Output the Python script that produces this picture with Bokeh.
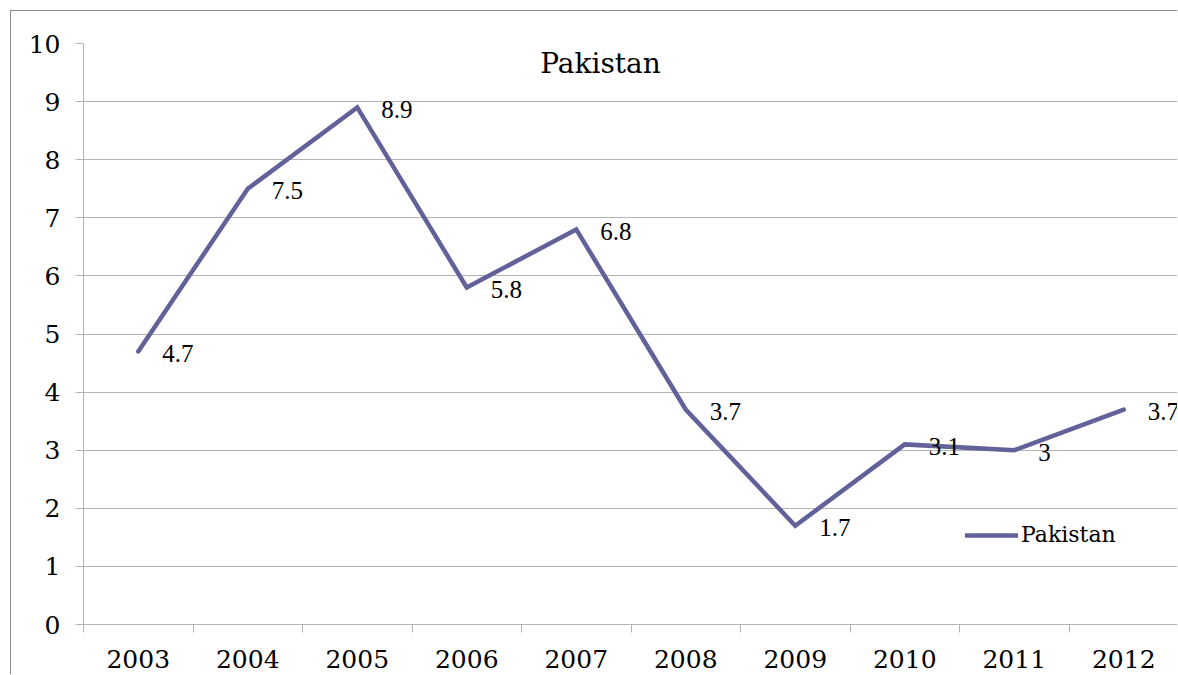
from bokeh.plotting import figure
from bokeh.models import Range1d, FixedTicker, Label, Legend, LegendItem, ColumnDataSource, LabelSet
from bokeh.embed import file_html
from bokeh.resources import INLINE

years = [2003, 2004, 2005, 2006, 2007, 2008, 2009, 2010, 2011, 2012]
values = [4.7, 7.5, 8.9, 5.8, 6.8, 3.7, 1.7, 3.1, 3.0, 3.7]
value_labels = ["4.7", "7.5", "8.9", "5.8", "6.8", "3.7", "1.7", "3.1", "3", "3.7"]
y_ticks = [0, 1, 2, 3, 4, 5, 6, 7, 8, 9, 10]
series_name = "Pakistan"
title_text = "Pakistan"

FONT = "DejaVu Serif"
LINE_COLOR = "#62619a"
GRID = "#b3b3b3"

p = figure(width=1167, height=664, output_backend="svg", toolbar_location=None,
           x_range=Range1d(years[0] - 0.5, years[-1] + 0.5), y_range=Range1d(0, 10),
           min_border_left=72, min_border_right=0, min_border_top=32, min_border_bottom=51)
p.margin = (10, 0, 0, 10)
p.styles = {"border-left": "1px solid #8a8a8a", "border-top": "1px solid #8a8a8a"}
p.outline_line_color = None
p.background_fill_color = "white"
p.border_fill_color = "white"

# y axis
p.yaxis.ticker = FixedTicker(ticks=y_ticks)
p.yaxis.axis_line_color = GRID
p.yaxis.major_tick_line_color = GRID
p.yaxis.major_tick_out = 8
p.yaxis.major_tick_in = 0
p.yaxis.minor_tick_line_color = None
p.yaxis.major_label_standoff = 15
p.yaxis.major_label_text_font = FONT
p.yaxis.major_label_text_font_size = "25px"
p.yaxis.major_label_text_color = "black"

# x axis: labels at year centers, ticks at boundaries
bounds = [y - 0.5 for y in years] + [years[-1] + 0.5]
p.xaxis.ticker = FixedTicker(ticks=years, minor_ticks=bounds)
p.xaxis.axis_line_color = GRID
p.xaxis.major_tick_line_color = None
p.xaxis.major_tick_out = 0
p.xaxis.major_tick_in = 0
p.xaxis.minor_tick_line_color = GRID
p.xaxis.minor_tick_out = 8
p.xaxis.minor_tick_in = 0
p.xaxis.major_label_standoff = 17
p.xaxis.major_label_text_font = FONT
p.xaxis.major_label_text_font_size = "25px"
p.xaxis.major_label_text_color = "black"

p.xgrid.grid_line_color = None
p.ygrid.ticker = FixedTicker(ticks=y_ticks)
p.ygrid.grid_line_color = GRID
p.ygrid.grid_line_width = 1

src = ColumnDataSource(dict(x=years, y=values, lab=value_labels))
r = p.line("x", "y", source=src, line_color=LINE_COLOR, line_width=4.5, line_join="miter", line_cap="round")

labels = LabelSet(x="x", y="y", text="lab", source=src, x_offset=24, y_offset=-2,
                  text_font=FONT, text_font_size="25px", text_color="black",
                  text_align="left", text_baseline="middle")
p.add_layout(labels)

title = Label(x=517, y=561, x_units="screen", y_units="screen", text=title_text,
              text_font=FONT, text_font_size="28px", text_color="black",
              text_align="center", text_baseline="middle")
p.add_layout(title)

legend = Legend(items=[LegendItem(label=series_name, renderers=[r])], location=(882, 77),
                border_line_color=None, background_fill_alpha=0, padding=0, margin=0,
                glyph_width=53, glyph_height=20, label_standoff=3,
                label_text_font=FONT, label_text_font_size="22px", label_text_color="black")
p.add_layout(legend)

open("out.html", "w").write(file_html(p, INLINE))
